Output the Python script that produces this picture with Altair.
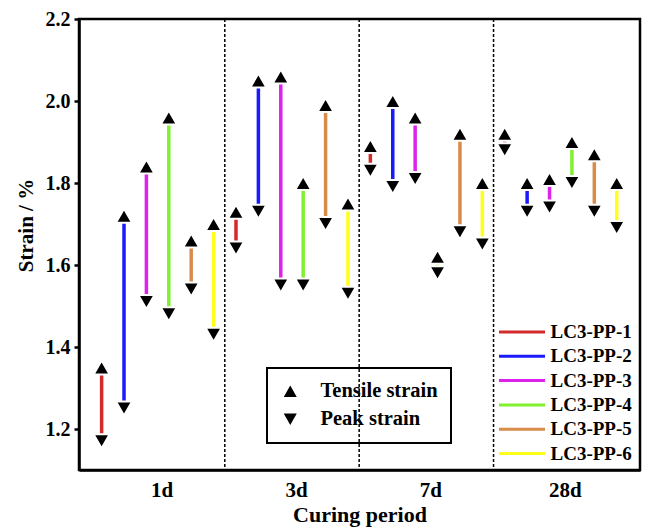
import altair as alt
import pandas as pd

groups = ["1d", "3d", "7d", "28d"]
series = ["LC3-PP-1", "LC3-PP-2", "LC3-PP-3", "LC3-PP-4", "LC3-PP-5", "LC3-PP-6"]
colors = ["#d42a2a", "#1a1aff", "#dd22ee", "#80f030", "#d98c4a", "#ffff1a"]

# tensile strain (triangle up) per series, across groups 1d, 3d, 7d, 28d
tensile_pp1 = [1.35, 1.73, 1.89, 1.92]
tensile_pp2 = [1.72, 2.05, 2.00, 1.80]
tensile_pp3 = [1.84, 2.06, 1.96, 1.81]
tensile_pp4 = [1.96, 1.80, 1.62, 1.90]
tensile_pp5 = [1.66, 1.99, 1.92, 1.87]
tensile_pp6 = [1.70, 1.75, 1.80, 1.80]
# peak strain (triangle down)
peak_pp1 = [1.17, 1.64, 1.83, 1.88]
peak_pp2 = [1.25, 1.73, 1.79, 1.73]
peak_pp3 = [1.51, 1.55, 1.81, 1.74]
peak_pp4 = [1.48, 1.55, 1.58, 1.80]
peak_pp5 = [1.54, 1.70, 1.68, 1.73]
peak_pp6 = [1.43, 1.53, 1.65, 1.69]

tensile = [tensile_pp1, tensile_pp2, tensile_pp3, tensile_pp4, tensile_pp5, tensile_pp6]
peak = [peak_pp1, peak_pp2, peak_pp3, peak_pp4, peak_pp5, peak_pp6]
boundaries = [1.5, 2.5, 3.5]
marker_types = ["Tensile strain", "Peak strain"]
y_ticks = [1.2, 1.4, 1.6, 1.8, 2.0, 2.2]

rows = []
for si, s in enumerate(series):
    for gi, g in enumerate(groups):
        rows.append({
            "series": s, "group": g,
            "x": gi + 1 + (si - 2.5) / 6.0,
            "tensile": tensile[si][gi], "peak": peak[si][gi],
        })
df = pd.DataFrame(rows)
pts = pd.concat([
    df.assign(strain=df["tensile"], type=marker_types[0]),
    df.assign(strain=df["peak"], type=marker_types[1]),
])[["series", "group", "x", "strain", "type"]]

FONT = "Liberation Serif"
xscale = alt.Scale(domain=[0.415, 4.59], nice=False, zero=False)
yscale = alt.Scale(domain=[1.1, 2.2], nice=False, zero=False)
xaxis = alt.Axis(values=[1, 2, 3, 4],
                 labelExpr="['', '1d', '3d', '7d', '28d'][datum.value]",
                 ticks=False, grid=False, labelOffset=4, labelPadding=9,
                 labelFontSize=21, titleFontSize=22, titlePadding=4)
yaxis = alt.Axis(values=y_ticks, format=".1f", grid=False, tickSize=5,
                 tickWidth=2.5, labelPadding=4, titlePadding=9,
                 labelFontSize=20, titleFontSize=21, titleY=206)

dashed = alt.Chart(pd.DataFrame({"x": boundaries})).mark_rule(
    color="black", strokeDash=[3, 2], strokeWidth=1.5
).encode(x=alt.X("x:Q", scale=xscale, axis=xaxis, title="Curing period"))

rules = alt.Chart(df).mark_rule(strokeWidth=3.5).encode(
    x=alt.X("x:Q", scale=xscale, axis=xaxis, title="Curing period"),
    y=alt.Y("tensile:Q", scale=yscale, axis=yaxis, title="Strain / %"),
    y2="peak:Q",
    color=alt.Color("series:N", scale=alt.Scale(domain=series, range=colors),
                    legend=alt.Legend(title=None, orient="none", legendX=429,
                                      legendY=299, symbolType="M-1.84,0H1.84",
                                      symbolSize=625, symbolStrokeWidth=3,
                                      labelOffset=14.5, rowPadding=0.3, padding=0,
                                      labelFontSize=19)),
)

points = alt.Chart(pts).mark_point(
    filled=True, fill="black", stroke="white", strokeWidth=2, size=260, opacity=1
).encode(
    x=alt.X("x:Q", scale=xscale, axis=xaxis, title="Curing period"),
    y=alt.Y("strain:Q", scale=yscale, axis=yaxis, title="Strain / %"),
    shape=alt.Shape("type:N",
                    scale=alt.Scale(domain=marker_types, range=["triangle-up", "triangle-down"]),
                    legend=alt.Legend(title=None, orient="none", legendX=188,
                                      legendY=349, strokeColor="black",
                                      padding=13, symbolSize=170,
                                      symbolFillColor="black", symbolStrokeWidth=0,
                                      labelOffset=20, rowPadding=7,
                                      labelFontSize=20.5)),
)

chart = alt.layer(dashed, rules, points).properties(
    width=561, height=451,
    autosize=alt.AutoSizeParams(type="none"),
    padding={"left": 79, "top": 19, "right": 5, "bottom": 59},
).configure_view(
    stroke="black", strokeWidth=2.5
).configure_axis(
    labelFont=FONT, titleFont=FONT, labelFontWeight="bold", titleFontWeight="bold",
    labelColor="black", titleColor="black",
    domainColor="black", domainWidth=2.5, tickColor="black",
).configure_legend(
    labelFont=FONT, labelFontWeight="bold", labelColor="black",
    strokeWidth=2, labelLimit=300,
)

chart.save("out.html", embed_options={"renderer": "svg", "actions": False})
